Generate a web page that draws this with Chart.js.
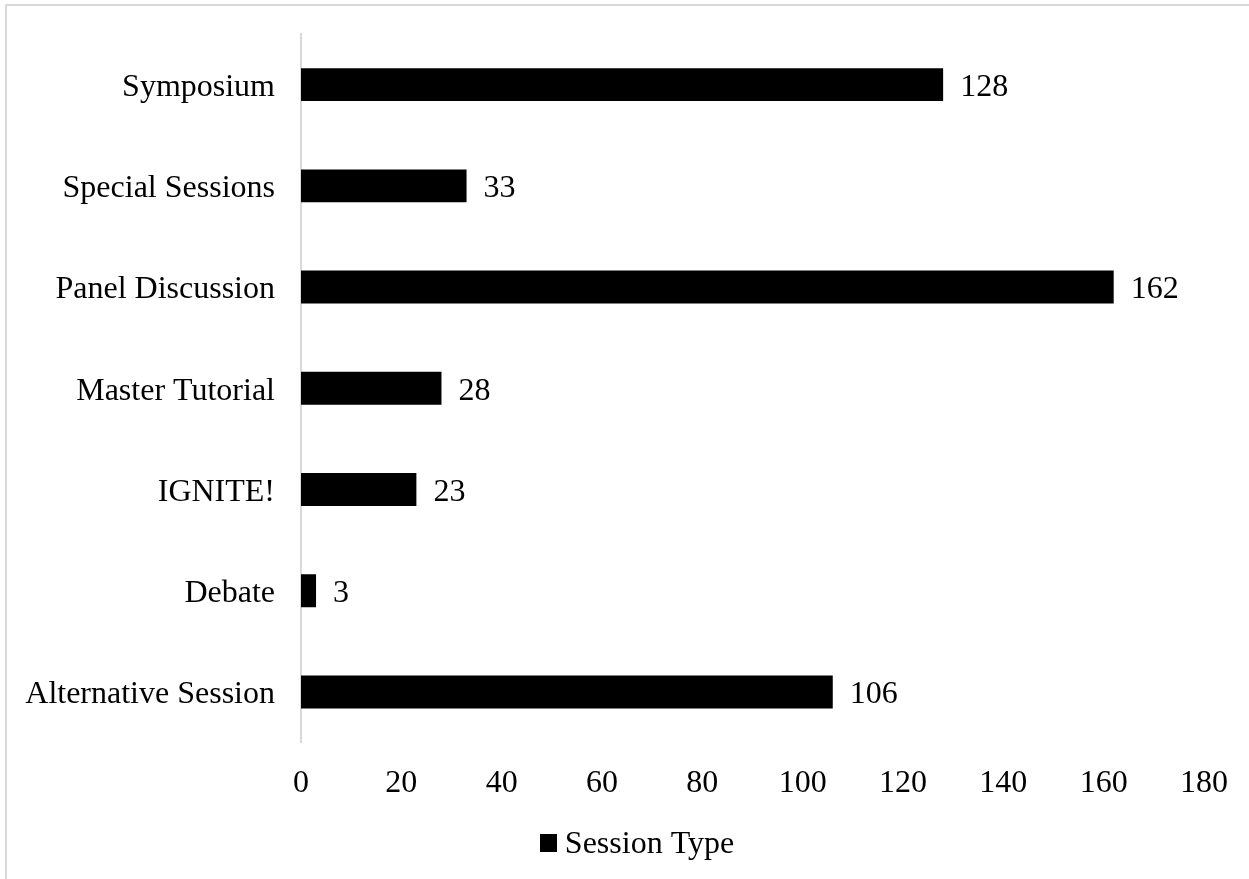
<!DOCTYPE html>
<html>
<head>
<meta charset="utf-8">
<script src="https://cdn.jsdelivr.net/npm/chart.js@4"></script>
<style>
html,body{margin:0;padding:0;background:#fff;overflow:hidden;width:1249px;height:879px;}
#frame{position:absolute;left:5px;top:4px;width:1400px;height:1000px;border-left:2px solid #d9d9d9;border-top:2px solid #d9d9d9;box-sizing:border-box;}
#wrap{position:absolute;left:0;top:0;width:1249px;height:879px;}
</style>
</head>
<body>
<div id="frame"></div>
<div id="wrap"><canvas id="c" width="1249" height="879"></canvas></div>
<script>
const categories = ["Symposium","Special Sessions","Panel Discussion","Master Tutorial","IGNITE!","Debate","Alternative Session"];
const sessionCounts = [128,33,162,28,23,3,106];
const seriesName = "Session Type";
const xTicks = [0,20,40,60,80,100,120,140,160,180];

const FONT = "'Liberation Serif','Times New Roman',serif";
const FS = 32;

const valueLabels = {
  id:'valueLabels',
  afterDatasetsDraw(chart){
    const ctx = chart.ctx;
    const meta = chart.getDatasetMeta(0);
    ctx.save();
    ctx.font = FS + "px " + FONT;
    ctx.fillStyle = "#000";
    ctx.textBaseline = "middle";
    ctx.textAlign = "left";
    meta.data.forEach((bar,i)=>{
      ctx.fillText(String(chart.data.datasets[0].data[i]), bar.x + 17, bar.y + 3);
    });
    ctx.restore();
  }
};

// simple bottom legend drawn on canvas (box + series name), centred like the source
const bottomLegend = {
  id:'bottomLegend',
  afterDraw(chart){
    const ctx = chart.ctx;
    const ds = chart.data.datasets[0];
    ctx.save();
    ctx.font = FS + "px " + FONT;
    const box = 17, gap = 8;
    const tw = ctx.measureText(ds.label).width;
    const total = box + gap + tw;
    const cx = 637;
    const x0 = cx - total/2;
    const cy = 843;
    ctx.fillStyle = ds.backgroundColor;
    ctx.fillRect(Math.round(x0), cy - 9, box, box + 1);
    ctx.fillStyle = "#000";
    ctx.textBaseline = "middle";
    ctx.textAlign = "left";
    ctx.fillText(ds.label, x0 + box + gap, cy + 2);
    ctx.restore();
  }
};

new Chart(document.getElementById('c'), {
  type:'bar',
  data:{
    labels:categories,
    datasets:[{
      label:seriesName,
      data:sessionCounts,
      backgroundColor:'#000',
      borderColor:'#000',
      borderWidth:0,
      categoryPercentage:0.65,
      barPercentage:0.5
    }]
  },
  options:{
    indexAxis:'y',
    responsive:false,
    animation:false,
    layout:{padding:{left:0,right:45,top:34,bottom:54}},
    plugins:{
      legend:{display:false},
      tooltip:{enabled:false}
    },
    scales:{
      x:{
        min:0,max:180,
        afterBuildTicks(axis){ axis.ticks = xTicks.map(v=>({value:v})); },
        grid:{display:false,drawTicks:false},
        border:{display:false},
        ticks:{font:{family:FONT,size:FS},color:'#000',padding:22,maxRotation:0},
        afterFit(axis){ axis.paddingLeft = 0; axis.paddingRight = 0; }
      },
      y:{
        grid:{display:false,drawTicks:false},
        border:{display:true,color:'#d9d9d9',width:2},
        ticks:{font:{family:FONT,size:FS},color:'#000',padding:26,labelOffset:3},
        afterFit(axis){ axis.width = 301; axis.paddingTop = 0; axis.paddingBottom = 0; }
      }
    }
  },
  plugins:[valueLabels, bottomLegend]
});
</script>
</body>
</html>
